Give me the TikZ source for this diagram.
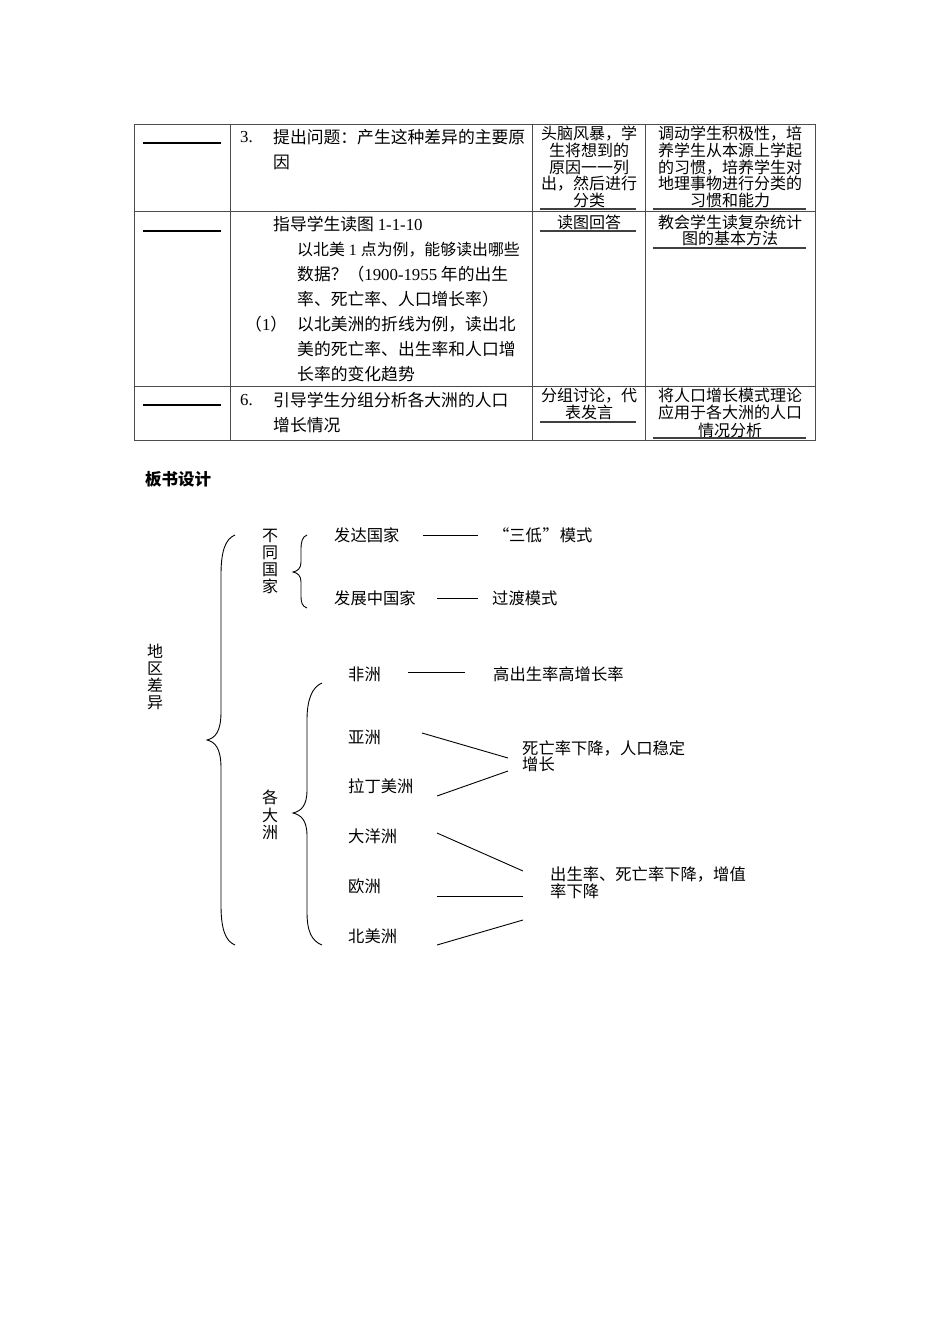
\documentclass[tikz,border=0pt]{standalone}
\usepackage{fontspec}
\setmainfont{Noto Sans CJK SC}
\newfontfamily\lat{Liberation Serif}
\begin{document}
\begin{tikzpicture}[x=1pt,y=-1pt,
  tb/.style={line width=0.8pt, draw=black!70},
  sl/.style={line width=1.1pt, draw=black},
  ul/.style={line width=1.4pt, draw=black!75},
  cn/.style={line width=0.9pt, draw=black},
  br/.style={line width=0.9pt, draw=black},
  c2/.style={inner sep=0pt, anchor=west, align=left, font=\fontsize{16.8}{25}\selectfont},
  c34/.style={inner sep=0pt, anchor=center, align=center, font=\fontsize{16}{16.8}\selectfont},
  dg/.style={inner sep=0pt, anchor=west, align=left, font=\fontsize{16.3}{16.5}\selectfont},
  vt/.style={inner sep=0pt, anchor=center, align=center, font=\fontsize{16}{17}\selectfont},
]
\useasboundingbox[fill=white] (0,0) rectangle (950,1344);

% ---------- table ----------
\draw[tb] (134,124) rectangle (815,440);
\draw[tb] (134,211) -- (815,211) (134,386) -- (815,386);
\draw[tb] (230,124) -- (230,440) (532,124) -- (532,440) (645,124) -- (645,440);

\draw[sl] (143,143) -- (221,143);
\draw[sl] (143,231) -- (221,231);
\draw[sl] (143,405) -- (221,405);

\node[c2] (n3) at (240,137) {\lat 3.};
\node[c2] (r1) at (273,149.5) {提出问题：产生这种差异的主要原\\因};
\node[c2] (r2a) at (273,224) {指导学生读图 {\lat 1-1-10}};
\node[c2] (r2b) at (297,311.5) {{\fontsize{15.9}{25}\selectfont 以北美\hspace{4pt}{\lat 1}\hspace{4pt}点为例，能够读出哪些}\\数据？（{\lat 1900-1955} 年的出生\\率、死亡率、人口增长率）\\以北美洲的折线为例，读出北\\美的死亡率、出生率和人口增\\长率的变化趋势};
\node[c2] (p1) at (245,324) {（{\lat 1}）};
\node[c2] (n6) at (240,400) {\lat 6.};
\node[c2] (r3) at (273,412.5) {引导学生分组分析各大洲的人口\\增长情况};

\node[c34] (a1) at (589,167) {头脑风暴，学\\生将想到的\\原因一一列\\出，然后进行\\分类};
\node[c34] (b1) at (730,167) {调动学生积极性，培\\养学生从本源上学起\\的习惯，培养学生对\\地理事物进行分类的\\习惯和能力};
\node[c34] (a2) at (589,222) {读图回答};
\node[c34, font=\fontsize{16}{16}\selectfont] (b2) at (730,230) {教会学生读复杂统计\\图的基本方法};
\node[c34, font=\fontsize{16}{17}\selectfont] (a3) at (589,403.5) {分组讨论，代\\表发言};
\node[c34, font=\fontsize{16}{17.5}\selectfont] (b3) at (730,412.5) {将人口增长模式理论\\应用于各大洲的人口\\情况分析};

\draw[ul] (540,209) -- (636,209) (540,231) -- (636,231) (540,422) -- (636,422);
\draw[ul] (653,209) -- (806,209) (653,248) -- (806,248) (653,438) -- (806,438);

% ---------- board design ----------
\node[dg, font=\fontsize{16.5}{17}\selectfont\bfseries] (title) at (145,479) {板书设计};

\node[vt] (diqu) at (155,676.5) {地\\区\\差\\异};
\node[vt] (butong) at (270,561.5) {不\\同\\国\\家};
\node[vt, font=\fontsize{16}{17.5}\selectfont] (gedazhou) at (270,815) {各\\大\\洲};

\node[dg] (fada) at (334,535) {发达国家};
\node[dg] (sandi) at (493,535) {\makebox[16pt][c]{“}三低\makebox[18pt][c]{”}模式};
\node[dg] (fazhan) at (334,598) {发展中国家};
\node[dg] (guodu) at (492,598) {过渡模式};
\node[dg] (feizhou) at (348,674) {非洲};
\node[dg] (gaochu) at (493,674) {高出生率高增长率};
\node[dg] (yazhou) at (348,737) {亚洲};
\node[dg] (lading) at (348,786) {拉丁美洲};
\node[dg] (siwang) at (522,756) {死亡率下降，人口稳定\\增长};
\node[dg] (dayang) at (348,836) {大洋洲};
\node[dg] (ouzhou) at (348,886) {欧洲};
\node[dg] (beimei) at (348,936) {北美洲};
\node[dg] (chusheng) at (550,882.5) {出生率、死亡率下降，增值\\率下降};

% braces
\draw[br] (235,535) .. controls (225,539) and (221,552) .. (221,575) -- (221,712)
  .. controls (221,732) and (215,738) .. (207,740)
  .. controls (215,742) and (221,748) .. (221,768) -- (221,905)
  .. controls (221,928) and (225,941) .. (235,945);
\draw[br] (307,535) .. controls (302,537) and (301,542) .. (301,550) -- (301,562)
  .. controls (301,568) and (298,571) .. (293,572)
  .. controls (298,573) and (301,576) .. (301,582) -- (301,595)
  .. controls (301,603) and (302,606) .. (307,608);
\draw[br] (322,683) .. controls (312,687) and (307,700) .. (307,720) -- (307,790)
  .. controls (307,806) and (301,811) .. (293,813)
  .. controls (301,815) and (307,820) .. (307,836) -- (307,912)
  .. controls (307,932) and (312,941) .. (322,945);

% connector end points
\coordinate (fadaE) at (423,535);   \coordinate (sandiW) at (478,535);
\coordinate (fazhanE) at (437,598); \coordinate (guoduW) at (478,598);
\coordinate (feizhouE) at (408,672); \coordinate (gaochuW) at (465,672);
\coordinate (yazhouE) at (422,733); \coordinate (ladingE) at (437,796);
\coordinate (siwangA) at (508,758); \coordinate (siwangB) at (508,771);
\coordinate (dayangE) at (437,833); \coordinate (ouzhouE) at (437,896);
\coordinate (beimeiE) at (437,945);
\coordinate (csA) at (523,871); \coordinate (csB) at (523,896); \coordinate (csC) at (523,920);

\draw[cn] (fadaE) -- (sandiW);
\draw[cn] (fazhanE) -- (guoduW);
\draw[cn] (feizhouE) -- (gaochuW);
\draw[cn] (yazhouE) -- (siwangA);
\draw[cn] (ladingE) -- (siwangB);
\draw[cn] (dayangE) -- (csA);
\draw[cn] (ouzhouE) -- (csB);
\draw[cn] (beimeiE) -- (csC);
\end{tikzpicture}
\end{document}
